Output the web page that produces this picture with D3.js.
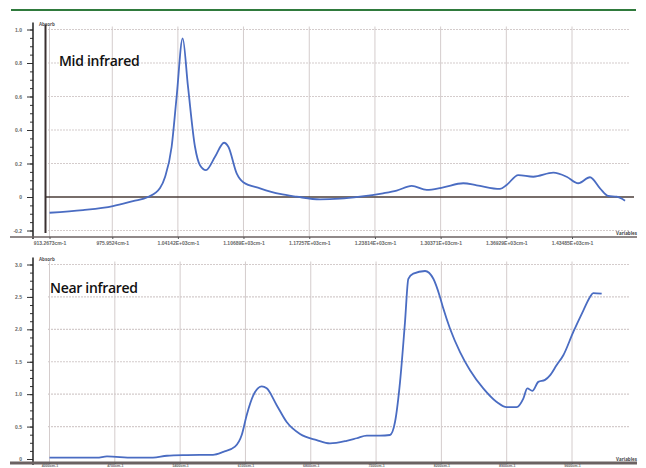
<!DOCTYPE html>
<html lang="en">
<head>
<meta charset="UTF-8">
<title>Mid and near infrared spectra</title>
<script src="https://cdnjs.cloudflare.com/ajax/libs/d3/7.8.2/d3.min.js"></script>
<style>
  body { margin: 0; background: #fff; }
  svg { display: block; font-family: "Open Sans", "DejaVu Sans", sans-serif; }
  .tick text { fill: #666; }
</style>
</head>
<body>
<div class="container"></div>
<script>
// ---- data ----
// mid infrared, wavenumber (cm-1) and absorbance
const midX = [913.3, 946.7, 976.6, 996.6, 1011.6, 1023.6, 1028.6, 1035.2, 1040.2, 1046.2,
  1051.5, 1058.5, 1063.5, 1069.5, 1078.5, 1087.5, 1091.8, 1100.1, 1106.7, 1123.4,
  1143.3, 1160, 1183.3, 1203.2, 1223.2, 1246.2, 1259.8, 1274.8, 1289.8, 1306.4,
  1326.3, 1339.7, 1363, 1369.6, 1381.2, 1396.2, 1416.2, 1429.5, 1441.1, 1452.8,
  1462.8, 1471.1, 1479.5, 1487.8];
const midY = [-0.094, -0.078, -0.054, -0.024, 0.0, 0.054, 0.12, 0.30, 0.60, 0.947,
  0.66, 0.30, 0.19, 0.161, 0.24, 0.324, 0.30, 0.141, 0.088, 0.052,
  0.018, 0.002, -0.014, -0.01, 0.002, 0.022, 0.038, 0.066, 0.042, 0.058,
  0.082, 0.07, 0.048, 0.072, 0.131, 0.121, 0.145, 0.121, 0.082, 0.118,
  0.052, 0.006, 0.002, -0.022];
const midTicks = [913.2673, 975.9524, 1041.42, 1106.89, 1172.57, 1238.14, 1303.71, 1369.29, 1434.85];
const midTickLabels = ["913.2673cm-1", "975.9524cm-1", "1.04142E+03cm-1", "1.10689E+03cm-1",
  "1.17257E+03cm-1", "1.23814E+03cm-1", "1.30371E+03cm-1", "1.36929E+03cm-1", "1.43485E+03cm-1"];
const midYTicks = [-0.2, 0, 0.2, 0.4, 0.6, 0.8, 1.0];
const midYLabels = ["-0.2", "0", "0.2", "0.4", "0.6", "0.8", "1.0"];

// near infrared
const nirX = [4000, 4509, 4616, 4895, 5109, 5259, 5474, 5752, 5863, 5988,
  6060, 6114, 6184, 6274, 6328, 6435, 6542, 6685, 6864, 7006,
  7185, 7293, 7400, 7542, 7649, 7703, 7757, 7810, 7846, 7899,
  8025, 8114, 8185, 8221, 8293, 8400, 8507, 8649, 8793, 8900,
  9007, 9078, 9121, 9175, 9239, 9311, 9364, 9436, 9507, 9614,
  9721, 9793, 9828, 9918];
const nirY = [0.02, 0.02, 0.04, 0.02, 0.02, 0.05, 0.06, 0.065, 0.11, 0.19,
  0.37, 0.68, 0.98, 1.12, 1.09, 0.83, 0.57, 0.385, 0.29, 0.24,
  0.28, 0.32, 0.36, 0.36, 0.37, 0.57, 1.19, 2.11, 2.78, 2.86,
  2.90, 2.78, 2.50, 2.32, 2.01, 1.65, 1.37, 1.09, 0.88, 0.80,
  0.80, 0.93, 1.09, 1.05, 1.19, 1.22, 1.29, 1.45, 1.60, 1.96,
  2.29, 2.50, 2.56, 2.55];
const nirTicks = [4000, 4700, 5400, 6100, 6800, 7500, 8200, 8900, 9600];
const nirTickLabels = ["4000cm-1", "4700cm-1", "5400cm-1", "6100cm-1", "6800cm-1",
  "7500cm-1", "8200cm-1", "8900cm-1", "9600cm-1"];
const nirYTicks = [0, 0.5, 1.0, 1.5, 2.0, 2.5, 3.0];
const nirYLabels = ["0", "0.5", "1.0", "1.5", "2.0", "2.5", "3.0"];

// ---- layout ----
let width = 646;
let height = 468;
let lineColor = "#4a6cc2";
let gridColor = "#d4cccc";

const svg = d3.select(".container").append("svg")
  .attr("width", width).attr("height", height);

// green rule on top
svg.append("line")
  .attr("x1", 11).attr("x2", 636).attr("y1", 10).attr("y2", 10)
  .attr("stroke", "#2f7a3c").attr("stroke-width", 2);

const drawPanel = (opt) => {
  const g = svg.append("g");
  const x = d3.scaleLinear().domain(opt.xDomain).range([49.5, 572]);
  const y = d3.scaleLinear().domain(opt.yDomain).range(opt.yRange);
  const top = opt.yRange[1] - 3;
  const bottom = opt.axisY;

  // vertical grid
  g.selectAll(".vgrid").data(opt.xTicks).enter().append("line")
    .attr("x1", d => x(d)).attr("x2", d => x(d))
    .attr("y1", top).attr("y2", bottom)
    .attr("stroke", gridColor).attr("stroke-width", 1);

  // horizontal grid (dotted)
  g.selectAll(".hgrid").data(opt.yTicks.filter(d => d !== 0)).enter().append("line")
    .attr("x1", 48).attr("x2", 630)
    .attr("y1", d => y(d)).attr("y2", d => y(d))
    .attr("stroke", gridColor).attr("stroke-width", 1.2)
    .attr("stroke-dasharray", "2,1");

  // y axis with minor ticks
  const minor = d3.range(opt.yDomain[0], opt.yDomain[1] + 1e-9, opt.minorStep);
  g.append("g").attr("transform", "translate(33,0)")
    .call(d3.axisLeft(y).tickValues(minor).tickSize(3).tickFormat(""))
    .call(a => a.select(".domain").remove())
    .selectAll("line").attr("stroke", "#333");
  g.append("g").attr("transform", "translate(33,0)")
    .call(d3.axisLeft(y).tickValues(opt.yTicks).tickSize(6).tickPadding(5)
      .tickFormat((d, i) => opt.yLabels[i]))
    .call(a => a.select(".domain").remove())
    .call(a => a.selectAll("line").attr("stroke", "#333"))
    .call(a => a.selectAll("text").attr("font-size", 5).attr("font-weight", 700));
  g.append("line")
    .attr("x1", 33).attr("x2", 33).attr("y1", top - 4).attr("y2", bottom + 2)
    .attr("stroke", "#222").attr("stroke-width", 1.5);

  g.append("text").attr("x", 39).attr("y", top - 1)
    .attr("font-size", 4.5).attr("font-weight", 700).attr("fill", "#555")
    .text("Absorb");

  // x axis
  g.append("line")
    .attr("x1", 10).attr("x2", 637).attr("y1", bottom).attr("y2", bottom)
    .attr("stroke", "#6b6262").attr("stroke-width", opt.axisWidth);
  g.append("g").attr("transform", `translate(0,${bottom})`)
    .call(d3.axisBottom(x).tickValues(opt.xTicks).tickSize(opt.xTickSize).tickPadding(opt.xTickPad)
      .tickFormat((d, i) => opt.xLabels[i]))
    .call(a => a.select(".domain").remove())
    .call(a => a.selectAll("line").attr("stroke", "#555"))
    .call(a => a.selectAll("text").attr("font-size", opt.xFont).attr("font-weight", 700).attr("fill", "#555"));
  g.append("text").attr("x", 637).attr("y", bottom - 2).attr("text-anchor", "end")
    .attr("font-size", 4.5).attr("font-weight", 700).attr("fill", "#444")
    .text("Variables");

  if (opt.zeroLine) {
    g.append("line")
      .attr("x1", 45).attr("x2", 634).attr("y1", y(0)).attr("y2", y(0))
      .attr("stroke", "#4a3c38").attr("stroke-width", 1.4);
    g.append("line")
      .attr("x1", 45.5).attr("x2", 45.5).attr("y1", top - 2).attr("y2", bottom - 4)
      .attr("stroke", "#3a3030").attr("stroke-width", 2);
  }

  // spectrum
  const pts = opt.xs.map((d, i) => [d, opt.ys[i]]);
  g.append("path").datum(pts)
    .attr("fill", "none").attr("stroke", lineColor).attr("stroke-width", 1.8)
    .attr("stroke-linejoin", "round")
    .attr("d", d3.line().x(d => x(d[0])).y(d => y(d[1])).curve(d3.curveMonotoneX));

  g.append("text").attr("x", opt.titleX).attr("y", opt.titleY)
    .attr("font-size", 14).attr("font-weight", 600).attr("fill", "#111")
    .attr("letter-spacing", -0.3)
    .text(opt.title);
};

drawPanel({
  xDomain: [913.2673, 1434.85], yDomain: [-0.2, 1.0], yRange: [230.5, 29.5],
  xTicks: midTicks, xLabels: midTickLabels, yTicks: midYTicks, yLabels: midYLabels,
  minorStep: 0.05, axisY: 237, axisWidth: 1.5, zeroLine: true,
  xTickSize: 2, xTickPad: 2, xFont: 5,
  xs: midX, ys: midY, title: "Mid infrared", titleX: 59, titleY: 66
});

drawPanel({
  xDomain: [4000, 9600], yDomain: [0, 3.0], yRange: [459, 264.5],
  xTicks: nirTicks, xLabels: nirTickLabels, yTicks: nirYTicks, yLabels: nirYLabels,
  minorStep: 0.125, axisY: 463, axisWidth: 3, zeroLine: false,
  xTickSize: 1, xTickPad: 0.5, xFont: 3.6,
  xs: nirX, ys: nirY, title: "Near infrared", titleX: 50, titleY: 293
});
</script>
</body>
</html>
